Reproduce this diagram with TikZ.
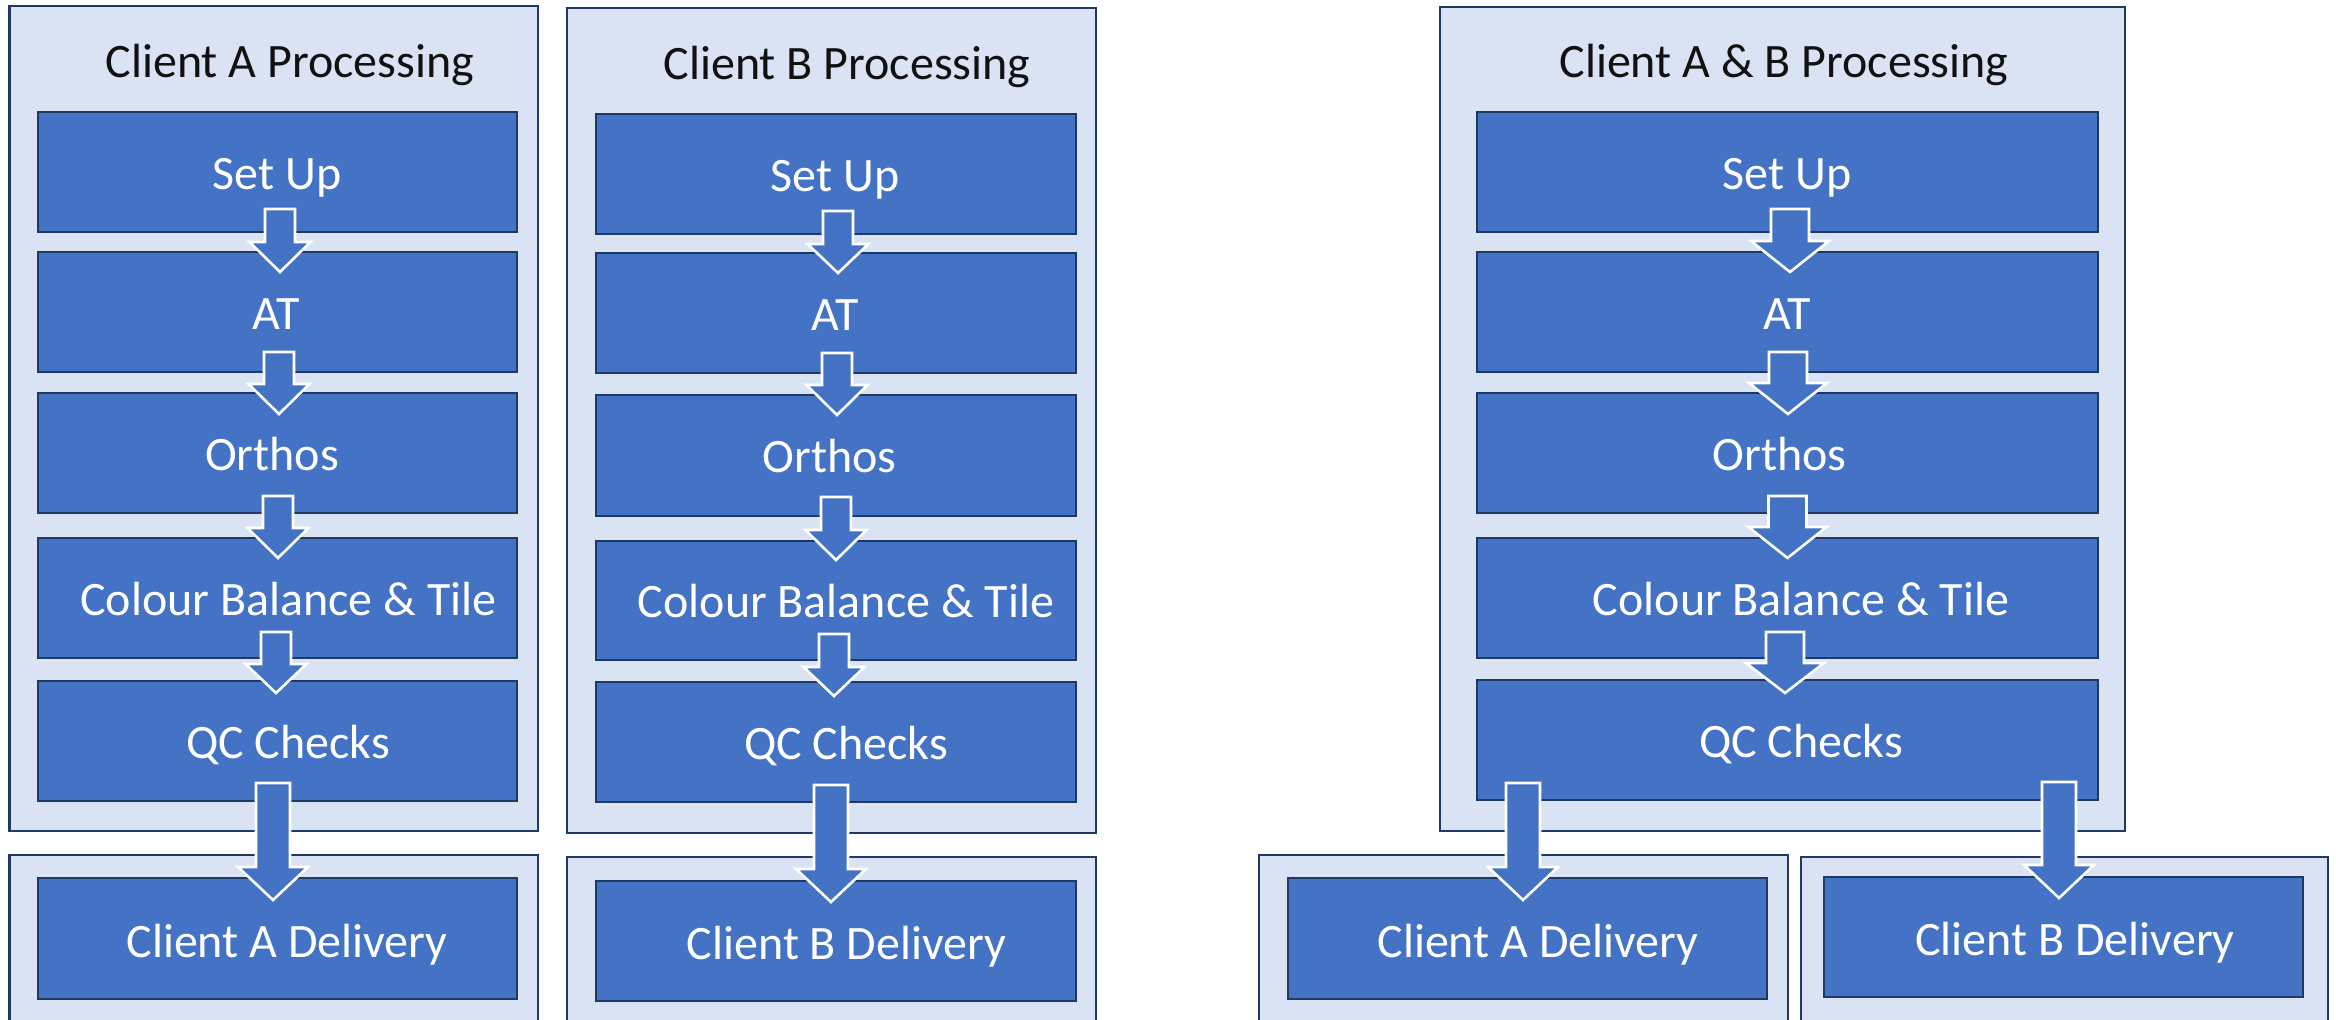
\documentclass[tikz,border=0pt]{standalone}
\usepackage{fontspec}
\setmainfont{Carlito}
\usetikzlibrary{calc,fit}
\definecolor{boxblue}{HTML}{4472C4}
\definecolor{panel}{HTML}{DAE3F3}
\definecolor{navy}{HTML}{1F3864}
\definecolor{titlecol}{HTML}{111111}
\newcommand\pxu{0.5pt}
% block arrow: #1 start (top of shaft), #2 end (tip), #3 half shaft, #4 half head, #5 head length (px)
\newcommand\blockarr[5]{%
  \filldraw[barrow] let \p1=(#1), \p2=(#2) in
    (\x2-#3*\pxu,\y1) -- (\x2-#3*\pxu,\y2+#5*\pxu) -- (\x2-#4*\pxu,\y2+#5*\pxu) -- (\x2,\y2)
    -- (\x2+#4*\pxu,\y2+#5*\pxu) -- (\x2+#3*\pxu,\y2+#5*\pxu) -- (\x2+#3*\pxu,\y1) -- cycle;}
\tikzset{
  panelbox/.style={draw=navy, fill=panel, line width=1.4pt, inner sep=0pt, outer sep=0pt},
  stepbox/.style={draw=navy, fill=boxblue, line width=1.3pt, inner sep=0pt, outer sep=0pt},
  lbl/.style={text=white, font=\fontsize{24}{28}\selectfont, anchor=base, inner sep=0pt},
  ttl/.style={text=titlecol, font=\fontsize{24}{28}\selectfont, anchor=base, inner sep=0pt},
  barrow/.style={fill=boxblue, draw=white, line width=1.3pt, line join=miter},
}
\begin{document}
\begin{tikzpicture}[x=0.5pt,y=-0.5pt]
\useasboundingbox (0,0) rectangle (2336,1020);
\clip (0,0) rectangle (2336,1020);
\fill[white] (0,0) rectangle (2336,1020);

% ---------- panels ----------
\node[panelbox, fit={(9.6,6) (538,831)}] (panA) {};
\node[panelbox, fit={(567,8) (1096,833)}] (panB) {};
\node[panelbox, fit={(1440,7) (2125,831)}] (panAB) {};
\node[panelbox, fit={(9.6,855) (538,1045)}] (panDA) {};
\node[panelbox, fit={(567,857) (1096,1045)}] (panDB) {};
\node[panelbox, fit={(1259,855) (1788,1045)}] (panDA2) {};
\node[panelbox, fit={(1801,857) (2328,1045)}] (panDB2) {};

% ---------- titles ----------
\node[ttl] (tA) at ($(panA.north)+(16,72)$) {Client A Processing};
\node[ttl] (tB) at ($(panB.north)+(15.5,72)$) {Client B Processing};
\node[ttl] (tAB) at ($(panAB.north)+(1.5,71)$) {Client A \& B Processing};

% ---------- column A ----------
\node[stepbox, fit={(38,112) (517,232)}] (suA) {};
\node[stepbox, fit={(38,252) (517,372)}] (atA) {};
\node[stepbox, fit={(38,393) (517,513)}] (orA) {};
\node[stepbox, fit={(38,538) (517,658)}] (cbA) {};
\node[stepbox, fit={(38,681) (517,801)}] (qcA) {};
\node[stepbox, fit={(38,878) (517,999)}] (dlA) {};

% ---------- column B ----------
\node[stepbox, fit={(596,114) (1076,234)}] (suB) {};
\node[stepbox, fit={(596,253) (1076,373)}] (atB) {};
\node[stepbox, fit={(596,395) (1076,516)}] (orB) {};
\node[stepbox, fit={(596,541) (1076,660)}] (cbB) {};
\node[stepbox, fit={(596,682) (1076,802)}] (qcB) {};
\node[stepbox, fit={(596,881) (1076,1001)}] (dlB) {};

% ---------- column A & B ----------
\node[stepbox, fit={(1477,112) (2098,232)}] (suC) {};
\node[stepbox, fit={(1477,252) (2098,372)}] (atC) {};
\node[stepbox, fit={(1477,393) (2098,513)}] (orC) {};
\node[stepbox, fit={(1477,538) (2098,658)}] (cbC) {};
\node[stepbox, fit={(1477,680) (2098,800)}] (qcC) {};
\node[stepbox, fit={(1288,878) (1767,999)}] (dlCA) {};
\node[stepbox, fit={(1824,877) (2303,997)}] (dlCB) {};

% ---------- labels ----------
\node[lbl] (lsuA) at ($(suA.center)+(-0.5,17.5)$) {Set Up};
\node[lbl] (latA) at ($(atA.center)+(-1.5,17.5)$) {AT};
\node[lbl] (lorA) at ($(orA.center)+(-5.5,17.5)$) {Orthos};
\node[lbl] (lcbA) at ($(cbA.center)+(11,17.5)$) {Colour Balance \& Tile};
\node[lbl] (lqcA) at ($(qcA.center)+(10.5,17.5)$) {QC Checks};
\node[lbl] (ldlA) at ($(dlA.center)+(9.5,19)$) {Client A Delivery};

\node[lbl] (lsuB) at ($(suB.center)+(-1,17.5)$) {Set Up};
\node[lbl] (latB) at ($(atB.center)+(-1,17.5)$) {AT};
\node[lbl] (lorB) at ($(orB.center)+(-6.5,17.5)$) {Orthos};
\node[lbl] (lcbB) at ($(cbB.center)+(10,17.5)$) {Colour Balance \& Tile};
\node[lbl] (lqcB) at ($(qcB.center)+(10,17.5)$) {QC Checks};
\node[lbl] (ldlB) at ($(dlB.center)+(10.5,19)$) {Client B Delivery};

\node[lbl] (lsuC) at ($(suC.center)+(-0.5,17.5)$) {Set Up};
\node[lbl] (latC) at ($(atC.center)+(-0.5,17.5)$) {AT};
\node[lbl] (lorC) at ($(orC.center)+(-8,17.5)$) {Orthos};
\node[lbl] (lcbC) at ($(cbC.center)+(13.5,17.5)$) {Colour Balance \& Tile};
\node[lbl] (lqcC) at ($(qcC.center)+(13.5,17.5)$) {QC Checks};
\node[lbl] (ldlCA) at ($(dlCA.center)+(10.5,19)$) {Client A Delivery};
\node[lbl] (ldlCB) at ($(dlCB.center)+(11.5,19)$) {Client B Delivery};

% ---------- arrows column A ----------
\blockarr{$(suA.south)+(2.5,-23)$}{$(atA.north)+(2.5,20)$}{15}{30.5}{30}
\blockarr{$(atA.south)+(1.5,-20)$}{$(orA.north)+(1.5,21)$}{15}{30.5}{30}
\blockarr{$(orA.south)+(0.5,-17)$}{$(cbA.north)+(0.5,20)$}{15}{30.5}{30}
\blockarr{$(cbA.south)+(-1.5,-26)$}{$(qcA.north)+(-1.5,12)$}{15}{30.5}{29}
\blockarr{$(qcA.south)+(-4.5,-18)$}{$(dlA.north)+(-4.5,22)$}{17}{35}{33}

% ---------- arrows column B ----------
\blockarr{$(suB.south)+(2,-23)$}{$(atB.north)+(2,20)$}{15}{30.5}{29}
\blockarr{$(atB.south)+(1,-20)$}{$(orB.north)+(1,20)$}{15}{30.5}{30}
\blockarr{$(orB.south)+(0,-19)$}{$(cbB.north)+(0,19)$}{15}{30.5}{30}
\blockarr{$(cbB.south)+(-2,-26)$}{$(qcB.north)+(-2,14)$}{15}{30.5}{29}
\blockarr{$(qcB.south)+(-5,-17)$}{$(dlB.north)+(-5,21)$}{17}{35}{33}

% ---------- arrows column A & B ----------
\blockarr{$(suC.south)+(2.5,-23)$}{$(atC.north)+(2.5,20)$}{19}{39}{31}
\blockarr{$(atC.south)+(0.5,-20)$}{$(orC.north)+(0.5,21)$}{19}{39}{31}
\blockarr{$(orC.south)+(0,-17)$}{$(cbC.north)+(0,20)$}{19}{39}{31}
\blockarr{$(cbC.south)+(-2.5,-26)$}{$(qcC.north)+(-2.5,13)$}{19}{39}{30}
\blockarr{$(qcC.south -| dlCA.north)+(-4.5,-17)$}{$(dlCA.north)+(-4.5,22)$}{17}{35}{33}
\blockarr{$(qcC.south -| dlCB.north)+(-4.5,-18)$}{$(dlCB.north)+(-4.5,21)$}{17}{35}{33}
\end{tikzpicture}
\end{document}
